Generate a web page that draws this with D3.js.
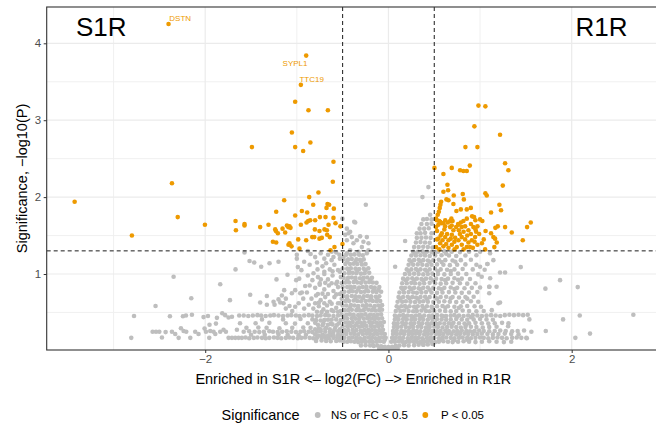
<!DOCTYPE html>
<html><head><meta charset="utf-8">
<script src="https://cdn.jsdelivr.net/npm/d3@7/dist/d3.min.js"></script>
<style>body{margin:0;background:#fff}svg{display:block}text{font-family:"Liberation Sans",Arial,sans-serif}</style>
</head><body><svg id="c" width="656" height="430"></svg>
<script>
// ---------- data ----------
const xTicks=[-2,0,2];
const yTicks=[1,2,3,4];
const xMinorTicks=[-3,-1,1];
const yMinorTicks=[0.5,1.5,2.5,3.5];
const fcCut=0.5;
const pCut=1.301;
const groupNames=["NS or FC < 0.5","P < 0.05"];
const groupColors=["#BEBEBE","#EE9A00"];
const cornerLabels=["S1R","R1R"];
const geneNames=["DSTN","SYPL1","TTC19"];
const geneX=[-2.40,-0.898,-0.956];
const geneY=[4.25,3.84,3.46];

// significant (orange)
const sigPoints=[
[-3.425,1.94],[-2.80,1.50],[-2.40,4.25],[-2.363,2.18],[-2.30,1.74],[-2.003,1.64],
[-1.669,1.69],[-1.665,1.57],[-1.571,1.65],[-1.571,1.63],[-1.49,2.65],[-1.40,1.61],[-1.309,1.64],
[-1.261,1.42],[-1.236,1.58],[-1.228,1.56],[-1.225,1.81],[-1.225,1.41],[-1.207,1.53],
[-1.156,1.59],[-1.138,1.96],[-1.127,1.54],[-1.108,1.63],[-1.094,1.61],[-1.091,1.38],[-1.08,1.62],[-1.08,1.40],[-1.069,1.60],[-1.058,1.36],[-1.054,2.84],
[-1.018,3.24],[-1.018,2.65],[-1.018,1.76],[-0.985,1.45],[-0.971,1.33],[-0.956,3.46],[-0.956,1.64],[-0.945,1.82],[-0.931,2.60],
[-0.898,3.84],[-0.898,1.44],[-0.894,1.67],[-0.887,1.80],[-0.876,1.69],[-0.873,3.13],[-0.865,2.00],[-0.854,1.70],[-0.852,2.71],
[-0.832,1.48],[-0.821,1.90],[-0.81,1.48],[-0.803,1.58],[-0.80,1.70],[-0.764,2.06],[-0.753,1.56],[-0.753,1.46],[-0.748,1.74],[-0.727,1.47],
[-0.698,1.58],[-0.687,1.74],[-0.676,1.86],[-0.672,1.57],[-0.669,1.51],[-0.665,1.91],[-0.661,3.13],[-0.654,1.64],[-0.647,1.90],[-0.64,1.48],[-0.633,1.31],
[-0.607,2.20],[-0.60,2.46],[-0.60,1.73],[-0.596,1.85],[-0.589,1.35],[-0.578,1.66],[-0.524,1.62],[-0.502,1.39],
[0.502,2.38],[0.60,2.30],[0.691,2.38],[0.782,2.35],[0.818,2.34],[0.855,2.34],[0.888,2.41],[1.273,2.44],[1.309,2.35],
[0.982,3.19],[1.058,3.18],[0.938,2.92],[1.218,2.81],[0.84,2.65],[0.971,2.65],
[1.248,2.15],[0.644,2.16],[0.60,2.07],[0.651,2.09],[0.713,2.02],[0.811,2.04],[0.823,1.97],[0.633,1.97],[0.655,1.96],[0.575,1.94],[0.567,1.90],[0.56,1.86],[0.55,1.81],[0.538,1.77],[0.709,1.91],
[1.058,2.05],[1.073,2.02],[1.211,1.90],[1.229,1.83],[0.742,1.82],[0.79,1.84],[0.855,1.84],[0.899,1.86],[1.12,1.80],[0.935,1.74],[0.913,1.75],[1.00,1.71],[1.025,1.69],[0.949,1.70],
[0.687,1.72],[0.673,1.69],[0.52,1.72],[0.553,1.69],[0.582,1.66],[0.855,1.72],[0.818,1.69],[0.79,1.67],[0.764,1.64],
[1.193,1.62],[1.167,1.60],[1.273,1.61],[1.553,1.67],[1.513,1.61],[1.346,1.54],[1.466,1.44],[1.12,1.53],[1.145,1.48],[1.164,1.46],[1.182,1.41],[1.156,1.35],[1.055,1.32],
[0.528,1.70],[0.564,1.68],[0.60,1.66],[0.545,1.64],[0.52,1.61],[0.648,1.67],[0.619,1.62],[0.673,1.61],[0.709,1.57],[0.739,1.61],[0.768,1.57],[0.837,1.62],[0.873,1.57],[0.927,1.61],[0.971,1.62],[0.957,1.55],
[0.583,1.53],[0.619,1.48],[0.545,1.46],[0.564,1.40],[0.60,1.36],[0.655,1.34],[0.556,1.32],[0.692,1.51],[0.728,1.47],[0.764,1.44],[0.80,1.48],[0.837,1.45],[0.873,1.41],[0.91,1.44],[0.946,1.48],[0.971,1.38],[0.921,1.34],[0.855,1.35],[0.80,1.38],[0.746,1.35],[0.692,1.38],[0.655,1.44],
[0.53,1.56],[0.57,1.50],[0.61,1.58],[0.64,1.52],[0.68,1.46],[0.72,1.42],[0.78,1.52],[0.82,1.55],[0.86,1.50],[0.90,1.52],[0.94,1.42],[1.02,1.40],[1.04,1.45],[0.99,1.52],[0.89,1.35],[0.82,1.32],[0.72,1.32],[0.63,1.39],[0.52,1.35],[0.53,1.45],[0.59,1.44],[0.76,1.65],[0.69,1.63],[0.80,1.61],[0.90,1.65],[0.62,1.70],[0.70,1.69],[0.95,1.58],[1.06,1.56]
];

// not significant (grey) : far left tail
const nsLeftTail=[
[-2.807,0.17],[-2.777,0.455],[-2.574,0.25],[-2.537,0.25],[-2.501,0.25],[-2.542,0.585],[-2.472,0.175],[-2.432,0.245],[-2.385,0.45],[-2.363,0.25],[-2.345,0.965],[-2.327,0.22],[-2.29,0.17],[-2.265,0.295],[-2.243,0.45],[-2.236,0.26],[-2.21,0.46],[-2.207,0.25],[-2.163,0.17],[-2.152,0.685],[-2.145,0.47],[-2.109,0.25],[-2.073,0.22],[-2.018,0.44],[-2.007,0.29],[-1.992,0.25],[-1.97,0.455],[-1.956,0.17],[-1.953,0.34],[-1.945,0.26],[-1.909,0.25],[-1.89,0.22],[-1.883,0.355],[-1.872,0.43],[-1.836,0.866],[-1.836,0.25],[-1.814,0.49],[-1.80,0.275],[-1.782,0.465],[-1.774,0.25],[-1.745,0.435],[-1.745,0.17],[-1.73,0.66],[-1.708,0.445],[-1.708,0.17],[-1.672,0.17],[-1.669,1.06],[-1.654,0.275],[-1.636,0.17],[-1.629,0.46]
];
// grey : x between -1.6 and -0.5
const nsLeftMid=[
[-1.60,0.17],[-1.56,0.175],[-1.52,0.165],[-1.47,0.17],[-1.43,0.175],[-1.38,0.17],[-1.34,0.165],[-1.30,0.17],[-1.25,0.175],[-1.21,0.17],[-1.17,0.165],[-1.12,0.17],[-1.08,0.175],[-1.04,0.17],[-0.99,0.165],[-0.95,0.17],[-0.91,0.175],[-0.86,0.17],[-0.82,0.165],[-0.78,0.17],[-0.73,0.175],[-0.69,0.17],[-0.65,0.165],[-0.60,0.17],[-0.56,0.175],[-0.52,0.17],
[-1.50,0.21],[-1.35,0.21],[-1.20,0.215],[-1.10,0.21],[-0.98,0.205],[-0.90,0.21],[-0.80,0.215],[-0.72,0.21],[-0.62,0.205],[-0.55,0.21],
[-1.58,0.25],[-1.52,0.255],[-1.46,0.25],[-1.41,0.245],[-1.36,0.25],[-1.30,0.255],[-1.26,0.25],[-1.21,0.245],[-1.16,0.25],[-1.11,0.255],[-1.06,0.25],[-1.01,0.245],[-0.96,0.25],[-0.92,0.255],[-0.87,0.25],[-0.83,0.245],[-0.78,0.25],[-0.74,0.255],[-0.69,0.25],[-0.64,0.245],[-0.60,0.25],[-0.55,0.255],[-0.51,0.25],
[-1.55,0.30],[-1.42,0.305],[-1.33,0.30],[-1.19,0.295],[-1.05,0.30],[-0.93,0.305],[-0.85,0.30],[-0.76,0.295],[-0.68,0.30],[-0.58,0.305],
[-1.62,0.36],[-1.45,0.36],[-1.30,0.365],[-1.12,0.36],[-1.02,0.355],[-0.88,0.36],[-0.80,0.365],[-0.71,0.36],[-0.63,0.355],[-0.54,0.36],
[-1.38,0.41],[-1.15,0.41],[-0.96,0.415],[-0.83,0.41],[-0.66,0.405],[-0.57,0.41],
[-1.58,0.46],[-1.53,0.455],[-1.48,0.46],[-1.43,0.465],[-1.39,0.46],[-1.34,0.455],[-1.29,0.46],[-1.25,0.465],[-1.20,0.46],[-1.15,0.455],[-1.10,0.46],[-1.06,0.465],[-1.01,0.46],[-0.97,0.455],[-0.92,0.46],[-0.87,0.465],[-0.83,0.46],[-0.78,0.455],[-0.74,0.46],[-0.69,0.465],[-0.65,0.46],[-0.60,0.455],[-0.55,0.46],
[-1.571,1.28],[-1.516,1.17],[-1.465,1.15],[-1.389,1.095],[-1.298,1.14],[-1.20,1.16],[-1.102,0.99],[-1.222,0.93],[-1.138,0.79],[-1.509,0.73],[-1.327,0.715],[-1.163,0.72],[-1.12,0.68],[-1.243,0.60],[-1.181,0.63],[-1.08,0.585],[-1.018,0.575],[-1.007,0.92],[-0.974,0.94],[-0.909,0.845],[-0.945,0.76],[-1.018,0.79],[-1.0,1.20],[-1.0,1.25],[-0.989,1.09],[-1.40,0.63],[-1.327,0.60],[-1.254,0.64],[-1.20,0.67],[-1.145,0.62],[-1.054,0.75],[-0.963,0.75],[-0.89,0.76],[-0.818,1.01],[-0.774,1.06],[-0.738,0.93],
[-0.85,1.26],[-0.80,1.22],[-0.74,1.27],[-0.70,1.20],[-0.66,1.25],[-0.62,1.18],[-0.57,1.28],[-0.53,1.20],[-0.86,1.12],[-0.78,1.15],[-0.72,1.10],[-0.68,1.14],[-0.64,1.06],[-0.59,1.12],[-0.55,1.05],[-0.88,0.98],[-0.83,0.92],[-0.77,0.96],[-0.70,1.00],[-0.66,0.93],[-0.61,0.98],[-0.56,0.90],[-0.52,0.96],[-0.86,0.85],[-0.80,0.82],[-0.75,0.86],[-0.70,0.80],[-0.65,0.85],[-0.60,0.78],[-0.55,0.83],[-0.51,0.76],[-0.84,0.68],[-0.79,0.72],[-0.74,0.66],[-0.69,0.70],[-0.64,0.64],[-0.59,0.70],[-0.55,0.62],[-0.51,0.68],[-0.87,0.60],[-0.82,0.55],[-0.76,0.58],[-0.71,0.54],[-0.67,0.59],[-0.62,0.53],[-0.57,0.56],[-0.52,0.52],[-0.93,0.68],[-0.98,0.62],[-0.92,0.55],[-1.05,0.52],[-1.12,0.55],[-0.95,1.05],[-0.92,1.16],[-0.88,1.30],[-0.62,1.29]
];
// grey : extra fill between -0.8 and -0.5
const nsLeftFill=[
[-0.79,0.13],[-0.73,0.135],[-0.68,0.13],[-0.63,0.125],[-0.57,0.13],[-0.53,0.135],
[-0.76,0.20],[-0.70,0.195],[-0.66,0.20],[-0.60,0.205],[-0.54,0.20],
[-0.80,0.28],[-0.74,0.28],[-0.69,0.285],[-0.64,0.28],[-0.59,0.275],[-0.53,0.28],
[-0.77,0.34],[-0.72,0.335],[-0.66,0.34],[-0.61,0.345],[-0.56,0.34],
[-0.79,0.40],[-0.74,0.395],[-0.70,0.40],[-0.62,0.405],[-0.52,0.40],
[-0.78,0.51],[-0.73,0.505],[-0.67,0.51],[-0.60,0.515],[-0.55,0.51],
[-0.80,0.62],[-0.76,0.625],[-0.70,0.62],[-0.62,0.615],[-0.53,0.62],
[-0.77,0.74],[-0.72,0.745],[-0.66,0.74],[-0.57,0.735],[-0.53,0.74],
[-0.75,0.88],[-0.69,0.885],[-0.62,0.88],[-0.57,0.875],[-0.51,0.88],
[-0.70,1.03],[-0.61,1.035],[-0.53,1.03]
];
// grey : left arm of the V (x from -0.5 to 0)
const nsLeftArm=[
[-0.10,0.03],[-0.06,0.025],[-0.02,0.02],[0.02,0.02],[0.06,0.025],[0.10,0.03],
[-0.30,0.07],[-0.25,0.075],[-0.20,0.07],[-0.16,0.065],[-0.12,0.07],[-0.08,0.06],[-0.04,0.055],[0.0,0.05],[0.04,0.055],[0.08,0.065],[0.12,0.07],[0.17,0.075],[0.22,0.07],[0.28,0.075],[0.33,0.08],[0.38,0.08],[0.43,0.085],[0.48,0.09],
[-0.49,0.12],[-0.45,0.12],[-0.41,0.125],[-0.37,0.12],[-0.33,0.115],[-0.29,0.12],[-0.25,0.125],[-0.21,0.12],[-0.17,0.115],[-0.13,0.12],[-0.09,0.125],[-0.05,0.12],
[-0.48,0.17],[-0.43,0.17],[-0.39,0.175],[-0.35,0.17],[-0.31,0.165],[-0.26,0.17],[-0.22,0.175],[-0.18,0.17],[-0.14,0.165],[-0.10,0.17],[-0.06,0.175],[-0.03,0.17],
[-0.50,0.22],[-0.46,0.22],[-0.41,0.225],[-0.37,0.22],[-0.33,0.215],[-0.28,0.22],[-0.24,0.225],[-0.20,0.22],[-0.16,0.215],[-0.12,0.22],[-0.08,0.225],[-0.04,0.22],
[-0.48,0.27],[-0.44,0.27],[-0.39,0.275],[-0.35,0.27],[-0.30,0.265],[-0.26,0.27],[-0.22,0.275],[-0.18,0.27],[-0.14,0.265],[-0.10,0.27],[-0.06,0.275],
[-0.50,0.32],[-0.45,0.32],[-0.41,0.325],[-0.37,0.32],[-0.32,0.315],[-0.28,0.32],[-0.24,0.325],[-0.19,0.32],[-0.15,0.315],[-0.11,0.32],[-0.07,0.325],
[-0.47,0.37],[-0.43,0.37],[-0.39,0.375],[-0.34,0.37],[-0.30,0.365],[-0.26,0.37],[-0.21,0.375],[-0.17,0.37],[-0.13,0.365],[-0.09,0.37],[-0.05,0.375],
[-0.49,0.42],[-0.45,0.42],[-0.40,0.425],[-0.36,0.42],[-0.32,0.415],[-0.27,0.42],[-0.23,0.425],[-0.19,0.42],[-0.15,0.415],[-0.11,0.42],[-0.07,0.425],
[-0.51,0.47],[-0.46,0.47],[-0.42,0.475],[-0.38,0.47],[-0.33,0.465],[-0.29,0.47],[-0.25,0.475],[-0.20,0.47],[-0.16,0.465],[-0.12,0.47],[-0.08,0.475],
[-0.48,0.53],[-0.44,0.53],[-0.40,0.535],[-0.35,0.53],[-0.31,0.525],[-0.27,0.53],[-0.22,0.535],[-0.18,0.53],[-0.14,0.525],[-0.10,0.53],[-0.07,0.535],
[-0.50,0.59],[-0.46,0.59],[-0.41,0.595],[-0.37,0.59],[-0.33,0.585],[-0.28,0.59],[-0.24,0.595],[-0.20,0.59],[-0.15,0.585],[-0.11,0.59],[-0.07,0.595],
[-0.47,0.65],[-0.43,0.65],[-0.38,0.655],[-0.34,0.65],[-0.30,0.645],[-0.25,0.65],[-0.21,0.655],[-0.17,0.65],[-0.13,0.645],[-0.09,0.65],
[-0.49,0.71],[-0.45,0.71],[-0.40,0.715],[-0.36,0.71],[-0.32,0.705],[-0.27,0.71],[-0.23,0.715],[-0.19,0.71],[-0.14,0.705],[-0.10,0.71],
[-0.48,0.77],[-0.43,0.77],[-0.39,0.775],[-0.35,0.77],[-0.30,0.765],[-0.26,0.77],[-0.22,0.775],[-0.17,0.77],[-0.13,0.765],[-0.08,0.77],
[-0.50,0.83],[-0.45,0.83],[-0.41,0.835],[-0.37,0.83],[-0.32,0.825],[-0.28,0.83],[-0.24,0.835],[-0.19,0.83],[-0.15,0.825],[-0.10,0.83],
[-0.47,0.89],[-0.43,0.89],[-0.38,0.895],[-0.34,0.89],[-0.30,0.885],[-0.25,0.89],[-0.21,0.895],[-0.17,0.89],[-0.13,0.885],
[-0.49,0.95],[-0.44,0.95],[-0.40,0.955],[-0.36,0.95],[-0.31,0.945],[-0.27,0.95],[-0.23,0.955],[-0.18,0.95],
[-0.48,1.01],[-0.43,1.01],[-0.39,1.015],[-0.35,1.01],[-0.30,1.005],[-0.26,1.01],[-0.21,1.015],
[-0.50,1.07],[-0.45,1.07],[-0.41,1.075],[-0.36,1.07],[-0.32,1.065],[-0.27,1.07],[-0.22,1.075],
[-0.47,1.13],[-0.42,1.13],[-0.38,1.135],[-0.34,1.13],[-0.29,1.125],[-0.25,1.13],
[-0.49,1.19],[-0.44,1.19],[-0.40,1.195],[-0.35,1.19],[-0.31,1.185],[-0.27,1.19],
[-0.46,1.25],[-0.41,1.25],[-0.37,1.255],[-0.32,1.25],[-0.28,1.245],
[-0.454,1.59],[-0.418,1.55],[-0.436,1.53],[-0.472,1.51],[-0.40,1.48],[-0.345,1.44],[-0.309,1.49],[-0.273,1.42],[-0.236,1.48],[-0.218,1.40],[-0.29,1.35],[-0.382,1.40],[-0.454,1.44],[-0.327,1.29],[-0.236,1.27],[-0.418,1.31],[-0.454,1.27],[-0.491,1.22],[-0.60,1.22],[-0.535,1.25],[-0.218,1.31],
[-0.502,1.72],[-0.363,1.67],[-0.374,1.68],[-0.247,1.90]
];
// grey : offset rows filling both arms
const nsArmFill=[
[-0.43,0.145],[-0.35,0.145],[-0.27,0.15],[-0.19,0.145],[-0.11,0.14],[-0.04,0.145],[0.06,0.145],[0.14,0.15],[0.22,0.145],[0.30,0.14],[0.38,0.145],[0.46,0.15],[0.58,0.145],[0.72,0.14],[0.86,0.145],
[-0.46,0.245],[-0.38,0.245],[-0.30,0.25],[-0.22,0.245],[-0.14,0.24],[-0.07,0.245],[0.07,0.245],[0.16,0.25],[0.24,0.245],[0.32,0.24],[0.41,0.245],[0.50,0.25],[0.64,0.245],[0.78,0.24],[0.92,0.245],
[-0.43,0.345],[-0.35,0.345],[-0.27,0.35],[-0.19,0.345],[-0.11,0.34],[0.08,0.345],[0.17,0.35],[0.26,0.345],[0.35,0.34],[0.44,0.345],[0.54,0.35],[0.69,0.345],[0.85,0.34],
[-0.47,0.445],[-0.38,0.445],[-0.30,0.45],[-0.22,0.445],[-0.14,0.44],[0.09,0.445],[0.18,0.45],[0.27,0.445],[0.36,0.44],[0.46,0.445],[0.60,0.45],[0.75,0.445],[0.90,0.44],
[-0.42,0.56],[-0.33,0.56],[-0.25,0.565],[-0.16,0.56],[-0.09,0.555],[0.11,0.56],[0.20,0.565],[0.30,0.56],[0.39,0.555],[0.48,0.56],[0.62,0.565],[0.77,0.56],
[-0.45,0.68],[-0.36,0.68],[-0.28,0.685],[-0.19,0.68],[-0.12,0.675],[0.13,0.68],[0.23,0.685],[0.32,0.68],[0.42,0.675],[0.53,0.68],[0.68,0.685],[0.86,0.68],
[-0.41,0.80],[-0.33,0.80],[-0.24,0.805],[-0.16,0.80],[-0.11,0.795],[0.16,0.80],[0.25,0.805],[0.35,0.80],[0.45,0.795],[0.58,0.80],[0.72,0.805],
[-0.45,0.92],[-0.36,0.92],[-0.28,0.925],[-0.20,0.92],[0.19,0.92],[0.28,0.925],[0.38,0.92],[0.49,0.915],[0.62,0.92],[0.76,0.925],
[-0.43,1.04],[-0.34,1.04],[-0.25,1.045],[0.22,1.04],[0.32,1.045],[0.42,1.04],[0.54,1.035],[0.68,1.04],
[-0.45,1.16],[-0.36,1.16],[-0.30,1.165],[0.25,1.16],[0.35,1.165],[0.45,1.16],[0.58,1.155],[0.73,1.16],
[0.29,1.27],[0.39,1.275],[0.50,1.27],[0.63,1.265]
];
// grey : right arm and blob (x > 0)
const nsRight=[
[0.03,0.12],[0.07,0.12],[0.11,0.125],[0.15,0.12],[0.19,0.115],[0.23,0.12],[0.27,0.125],[0.31,0.12],[0.35,0.115],[0.39,0.12],[0.43,0.125],[0.47,0.12],[0.51,0.115],[0.55,0.12],[0.60,0.125],[0.65,0.12],[0.70,0.115],[0.76,0.12],[0.82,0.125],[0.88,0.12],[0.95,0.115],[1.02,0.12],[1.10,0.125],[1.18,0.12],[1.26,0.115],[1.34,0.12],
[0.04,0.17],[0.08,0.17],[0.12,0.175],[0.16,0.17],[0.21,0.165],[0.25,0.17],[0.29,0.175],[0.33,0.17],[0.37,0.165],[0.42,0.17],[0.46,0.175],[0.50,0.17],[0.55,0.165],[0.59,0.17],[0.63,0.175],[0.68,0.17],[0.72,0.165],[0.77,0.17],[0.81,0.175],[0.86,0.17],[0.90,0.165],[0.95,0.17],[1.00,0.175],[1.04,0.17],[1.09,0.165],[1.14,0.17],[1.19,0.175],[1.24,0.17],[1.29,0.165],[1.35,0.17],[1.40,0.175],[1.45,0.17],[1.51,0.165],
[0.05,0.22],[0.09,0.22],[0.13,0.225],[0.17,0.22],[0.22,0.215],[0.26,0.22],[0.30,0.225],[0.34,0.22],[0.39,0.215],[0.43,0.22],[0.47,0.225],[0.52,0.22],[0.56,0.215],[0.60,0.22],[0.65,0.225],[0.69,0.22],[0.74,0.215],[0.78,0.22],[0.83,0.225],[0.87,0.22],[0.92,0.215],[0.97,0.22],[1.02,0.225],[1.08,0.22],[1.14,0.215],[1.20,0.22],[1.27,0.225],[1.34,0.22],[1.42,0.215],
[0.05,0.26],[0.09,0.265],[0.14,0.26],[0.18,0.255],[0.22,0.26],[0.27,0.265],[0.31,0.26],[0.35,0.255],[0.40,0.26],[0.44,0.265],[0.48,0.26],[0.53,0.255],[0.57,0.26],[0.62,0.265],[0.66,0.26],[0.71,0.255],[0.75,0.26],[0.80,0.265],[0.85,0.26],[0.89,0.255],[0.94,0.26],[0.99,0.265],[1.04,0.26],[1.10,0.255],[1.16,0.26],[1.22,0.265],[1.28,0.26],[1.35,0.255],[1.41,0.26],[1.48,0.265],[1.56,0.25],
[0.06,0.31],[0.10,0.31],[0.14,0.315],[0.19,0.31],[0.23,0.305],[0.27,0.31],[0.32,0.315],[0.36,0.31],[0.41,0.305],[0.45,0.31],[0.50,0.315],[0.54,0.31],[0.59,0.305],[0.64,0.31],[0.69,0.315],[0.74,0.31],[0.79,0.305],[0.84,0.31],[0.90,0.315],[0.96,0.31],[1.03,0.305],[1.10,0.31],[1.18,0.315],
[0.06,0.36],[0.10,0.36],[0.15,0.365],[0.19,0.36],[0.24,0.355],[0.28,0.36],[0.33,0.365],[0.37,0.36],[0.42,0.355],[0.47,0.36],[0.51,0.365],[0.56,0.36],[0.61,0.355],[0.66,0.36],[0.71,0.365],[0.77,0.36],[0.83,0.355],[0.88,0.36],[0.95,0.365],[1.02,0.36],[1.09,0.355],[1.16,0.36],[1.24,0.365],[1.31,0.36],
[0.07,0.41],[0.11,0.41],[0.16,0.415],[0.20,0.41],[0.25,0.405],[0.29,0.41],[0.34,0.415],[0.38,0.41],[0.43,0.405],[0.48,0.41],[0.53,0.415],[0.58,0.41],[0.63,0.405],[0.68,0.41],[0.74,0.415],[0.80,0.41],[0.86,0.405],[0.93,0.41],[1.00,0.415],[1.07,0.41],[1.14,0.405],
[0.07,0.46],[0.12,0.46],[0.16,0.465],[0.21,0.46],[0.25,0.455],[0.30,0.46],[0.34,0.465],[0.39,0.46],[0.44,0.455],[0.48,0.46],[0.53,0.465],[0.58,0.46],[0.63,0.455],[0.68,0.46],[0.72,0.465],[0.77,0.46],[0.82,0.455],[0.87,0.46],[0.92,0.465],[0.97,0.46],[1.02,0.455],[1.07,0.46],[1.12,0.465],[1.17,0.46],[1.22,0.455],[1.27,0.465],[1.32,0.47],[1.37,0.465],[1.42,0.47],[1.47,0.465],[1.52,0.47],
[0.08,0.52],[0.13,0.52],[0.17,0.525],[0.22,0.52],[0.27,0.515],[0.31,0.52],[0.36,0.525],[0.41,0.52],[0.45,0.515],[0.50,0.52],[0.56,0.525],[0.62,0.52],[0.68,0.515],[0.74,0.52],[0.81,0.525],[0.88,0.52],[0.96,0.515],[1.04,0.52],
[0.09,0.58],[0.14,0.58],[0.18,0.585],[0.23,0.58],[0.28,0.575],[0.32,0.58],[0.37,0.585],[0.42,0.58],[0.47,0.575],[0.53,0.58],[0.59,0.585],[0.65,0.58],[0.72,0.575],[0.79,0.58],[0.86,0.585],[0.94,0.58],[1.01,0.575],
[0.10,0.64],[0.15,0.64],[0.19,0.645],[0.24,0.64],[0.29,0.635],[0.34,0.64],[0.38,0.645],[0.43,0.64],[0.49,0.635],[0.55,0.64],[0.61,0.645],[0.67,0.64],[0.74,0.635],[0.81,0.64],[0.90,0.645],[0.98,0.64],[1.218,0.63],
[0.11,0.70],[0.16,0.70],[0.21,0.705],[0.26,0.70],[0.30,0.695],[0.35,0.70],[0.40,0.705],[0.45,0.70],[0.51,0.695],[0.57,0.70],[0.63,0.705],[0.70,0.70],[0.77,0.695],[0.84,0.70],[0.93,0.705],
[0.12,0.76],[0.17,0.76],[0.22,0.765],[0.27,0.76],[0.31,0.755],[0.36,0.76],[0.41,0.765],[0.47,0.76],[0.53,0.755],[0.59,0.76],[0.66,0.765],[0.73,0.76],[0.80,0.755],[0.88,0.76],[0.97,0.765],[1.10,0.75],
[0.14,0.82],[0.18,0.82],[0.23,0.825],[0.28,0.82],[0.33,0.815],[0.38,0.82],[0.43,0.825],[0.49,0.82],[0.55,0.815],[0.61,0.82],[0.68,0.825],[0.75,0.82],[0.83,0.815],[0.91,0.82],[1.0,0.825],[1.10,0.835],[1.18,0.835],
[0.15,0.88],[0.20,0.88],[0.25,0.885],[0.29,0.88],[0.34,0.875],[0.39,0.88],[0.45,0.885],[0.51,0.88],[0.57,0.875],[0.63,0.88],[0.70,0.885],[0.78,0.88],[0.86,0.875],[0.95,0.88],
[0.16,0.94],[0.21,0.94],[0.26,0.945],[0.31,0.94],[0.36,0.935],[0.41,0.94],[0.46,0.945],[0.52,0.94],[0.58,0.935],[0.65,0.94],[0.72,0.945],[0.80,0.94],[0.89,0.935],[1.11,0.945],
[0.18,1.00],[0.23,1.00],[0.28,1.005],[0.33,1.00],[0.38,0.995],[0.43,1.00],[0.48,1.005],[0.54,1.00],[0.61,0.995],[0.68,1.00],[0.76,1.005],[0.85,1.00],[0.98,0.995],[1.018,0.965],
[0.20,1.06],[0.25,1.06],[0.30,1.065],[0.35,1.06],[0.40,1.055],[0.45,1.06],[0.51,1.065],[0.57,1.06],[0.64,1.055],[0.72,1.06],[0.81,1.065],[0.92,1.06],[1.05,1.055],[1.0,1.095],
[0.22,1.12],[0.27,1.12],[0.32,1.125],[0.37,1.12],[0.42,1.115],[0.47,1.12],[0.53,1.125],[0.60,1.12],[0.67,1.115],[0.75,1.12],[0.84,1.125],[0.96,1.12],[1.08,1.13],
[0.23,1.18],[0.28,1.18],[0.33,1.185],[0.38,1.18],[0.43,1.175],[0.49,1.18],[0.55,1.185],[0.62,1.18],[0.70,1.175],[0.79,1.18],[0.90,1.185],[1.145,1.18],
[0.25,1.24],[0.30,1.24],[0.35,1.245],[0.40,1.24],[0.45,1.235],[0.51,1.24],[0.58,1.245],[0.66,1.24],[0.74,1.235],[0.84,1.24],[0.96,1.245],[1.109,1.27],
[0.27,1.29],[0.32,1.29],[0.37,1.295],[0.42,1.29],[0.47,1.285],[0.54,1.29],[0.61,1.295],[0.69,1.29],[0.78,1.285],[0.88,1.29],[1.0,1.29],
[0.28,1.35],[0.33,1.35],[0.38,1.355],[0.43,1.35],[0.48,1.345],
[0.182,1.43],[0.30,1.41],[0.35,1.415],[0.40,1.41],[0.45,1.405],
[0.31,1.47],[0.36,1.47],[0.41,1.475],[0.46,1.47],
[0.31,1.53],[0.35,1.53],[0.40,1.535],[0.47,1.53],
[0.34,1.59],[0.39,1.59],[0.44,1.595],
[0.36,1.65],[0.42,1.65],[0.47,1.655],
[0.38,1.71],[0.42,1.715],[0.47,1.71],
[0.455,1.77],[0.371,2.00],[0.436,2.13],[0.073,1.095],[0.382,0.08],
[1.444,1.09],[1.273,1.02],[1.218,1.02],[1.873,0.92],[1.713,0.81],[2.066,0.83],[1.906,0.41],[2.088,0.46],[2.673,0.47],[1.538,0.41],[1.717,0.26],[1.505,0.17],[2.04,0.17],[2.20,0.225],[1.306,0.32],[1.08,1.13],[1.20,0.62],[1.128,0.53],[1.102,0.835]
];

// ---------- drawing ----------
const svg=d3.select("#c");
const W=656,H=430;
const panel={left:46.7,right:661.3,top:7,bottom:350};
const x=d3.scaleLinear().domain([-3.73,2.978]).range([panel.left,panel.right]);
const y=d3.scaleLinear().domain([0.012,4.472]).range([panel.bottom,panel.top]);
const color=d3.scaleOrdinal().domain(groupNames).range(groupColors);
const R=2.3;

svg.append("rect").attr("width",W).attr("height",H).attr("fill","#fff");
svg.append("defs").append("clipPath").attr("id","clip").append("rect")
  .attr("x",panel.left).attr("y",panel.top).attr("width",panel.right-panel.left).attr("height",panel.bottom-panel.top);

const g=svg.append("g");
g.selectAll(".gxm").data(xMinorTicks).join("line").attr("x1",d=>x(d)).attr("x2",d=>x(d)).attr("y1",panel.top).attr("y2",panel.bottom).attr("stroke","#EEEEEE").attr("stroke-width",0.9);
g.selectAll(".gym").data(yMinorTicks).join("line").attr("y1",d=>y(d)).attr("y2",d=>y(d)).attr("x1",panel.left).attr("x2",panel.right).attr("stroke","#EEEEEE").attr("stroke-width",0.9);
g.selectAll(".gx").data(xTicks).join("line").attr("x1",d=>x(d)).attr("x2",d=>x(d)).attr("y1",panel.top).attr("y2",panel.bottom).attr("stroke","#EBEBEB").attr("stroke-width",1.2);
g.selectAll(".gy").data(yTicks).join("line").attr("y1",d=>y(d)).attr("y2",d=>y(d)).attr("x1",panel.left).attr("x2",panel.right).attr("stroke","#EBEBEB").attr("stroke-width",1.2);

const pts=svg.append("g").attr("clip-path","url(#clip)");
const nsAll=[].concat(nsLeftTail,nsLeftMid,nsLeftFill,nsLeftArm,nsArmFill,nsRight);
pts.selectAll("circle.ns").data(nsAll).join("circle").attr("class","ns")
  .attr("cx",d=>x(d[0])).attr("cy",d=>y(d[1])).attr("r",R).attr("fill",color(groupNames[0]));
pts.selectAll("circle.sig").data(sigPoints).join("circle").attr("class","sig")
  .attr("cx",d=>x(d[0])).attr("cy",d=>y(d[1])).attr("r",R).attr("fill",color(groupNames[1]));

const th=svg.append("g").attr("clip-path","url(#clip)").attr("stroke","#000").attr("stroke-width",0.9).attr("stroke-dasharray","4,3");
[-fcCut,fcCut].forEach(v=>th.append("line").attr("x1",x(v)).attr("x2",x(v)).attr("y1",panel.top).attr("y2",panel.bottom));
th.append("line").attr("x1",panel.left).attr("x2",panel.right).attr("y1",y(pCut)).attr("y2",y(pCut));

const labelStyle=[{dx:0.8,dy:-3.3,anchor:"start"},{dx:1.3,dy:10,anchor:"end"},{dx:-1.4,dy:-3.3,anchor:"start"}];
geneNames.forEach((n,i)=>{
  svg.append("text").attr("x",x(geneX[i])+labelStyle[i].dx).attr("y",y(geneY[i])+labelStyle[i].dy)
    .attr("text-anchor",labelStyle[i].anchor).attr("font-size",8).attr("fill","#EE9A00").text(n);
});

svg.append("text").attr("x",76).attr("y",36).attr("font-size",26).attr("fill","#000").text(cornerLabels[0]);
svg.append("text").attr("x",575.5).attr("y",36).attr("font-size",26).attr("fill","#000").text(cornerLabels[1]);

svg.append("rect").attr("x",panel.left).attr("y",panel.top).attr("width",panel.right-panel.left).attr("height",panel.bottom-panel.top)
  .attr("fill","none").attr("stroke","#333").attr("stroke-width",1.1);

const fmt=d=>d<0?"\u2212"+Math.abs(d):String(d);
const ax=svg.append("g").attr("transform",`translate(0,${panel.bottom})`).call(d3.axisBottom(x).tickValues(xTicks).tickSize(3).tickPadding(2).tickFormat(fmt));
const ay=svg.append("g").attr("transform",`translate(${panel.left},0)`).call(d3.axisLeft(y).tickValues(yTicks).tickSize(3).tickPadding(2.5).tickFormat(fmt));
[ax,ay].forEach(a=>{a.select(".domain").remove();a.selectAll("line").attr("stroke","#333");a.selectAll("text").attr("fill","#4D4D4D").attr("font-size",11.5).attr("font-family","Liberation Sans, Arial, sans-serif");});

svg.append("text").attr("x",(panel.left+W)/2+2).attr("y",383.5).attr("text-anchor","middle").attr("font-size",14.5).attr("fill","#000")
  .text("Enriched in S1R <\u2013 log2(FC) \u2013> Enriched in R1R");
svg.append("text").attr("transform",`translate(27,${(panel.top+panel.bottom)/2}) rotate(-90)`).attr("text-anchor","middle").attr("font-size",14.5).attr("fill","#000")
  .text("Significance, \u2212log10(P)");

const lg=svg.append("g");
lg.append("text").attr("x",221.5).attr("y",420).attr("font-size",14.5).attr("fill","#000").text("Significance");
const keyX=[317.7,425.3], labX=[331,441];
groupNames.forEach((n,i)=>{
  lg.append("circle").attr("cx",keyX[i]).attr("cy",415).attr("r",2.9).attr("fill",color(n));
  lg.append("text").attr("x",labX[i]).attr("y",419.3).attr("font-size",11.5).attr("fill","#000").text(n);
});
</script></body></html>
